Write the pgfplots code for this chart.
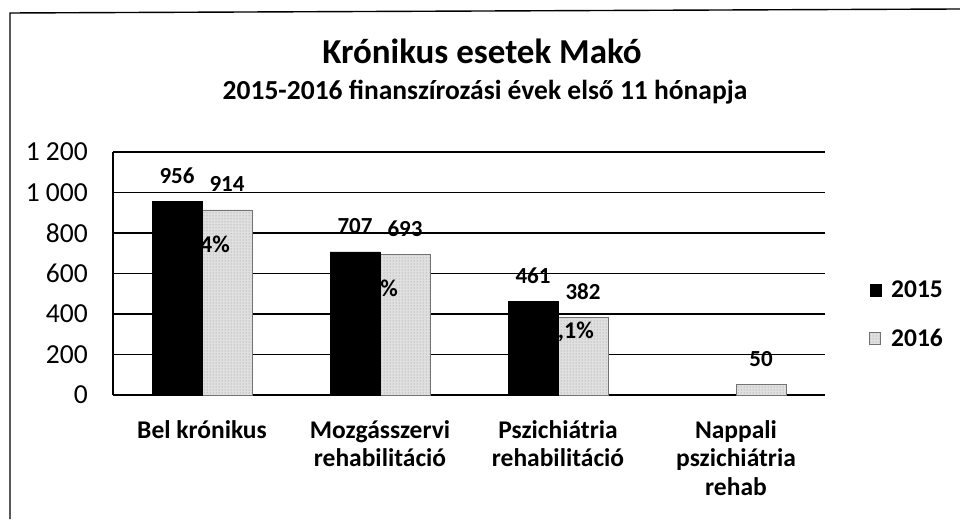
\documentclass[border=0pt]{standalone}
\usepackage{pgfplots}
\pgfplotsset{compat=1.18}
\usetikzlibrary{patterns}
\usepackage{fontspec}
\setmainfont{Carlito}

\begin{document}
\begin{tikzpicture}
\path[use as bounding box] (0pt,0pt) rectangle (960pt,519pt);
\draw[line width=1.4pt] (10pt,0pt) -- (10pt,506pt) -- (960pt,510pt);
\node[font=\bfseries\fontsize{35}{38}\selectfont, anchor=base, inner sep=0pt] at (482pt,455pt) {Krónikus esetek Makó};
\node[font=\bfseries\fontsize{27.5}{30}\selectfont, anchor=base, inner sep=0pt] at (485pt,419pt) {2015-2016 finanszírozási évek első 11 hónapja};
\begin{axis}[
  at={(113pt,124pt)}, anchor=south west,
  scale only axis, width=712pt, height=243pt,
  ybar, bar width=50pt,
  xmin=-0.5, xmax=3.5, ymin=0, ymax=1200,
  ytick={0,200,...,1200},
  xtick={0,1,2,3},
  xticklabels={{Bel krónikus},{Mozgásszervi\\rehabilitáció},{Pszichiátria\\rehabilitáció},{Nappali\\pszichiátria\\rehab}},
  /pgf/number format/assume math mode=true,
  /pgf/number format/1000 sep={\ },
  axis x line*=bottom, axis y line*=left,
  axis line style={black, line width=1.3pt, -},
  ymajorgrids, major grid style={black, line width=1.3pt},
  xtick style={draw=none}, ytick style={draw=none},
  yticklabel style={font=\fontsize{27.5}{30}\selectfont, inner sep=0pt, xshift=-25pt},
  xticklabel style={font=\bfseries\fontsize{25.5}{28.5}\selectfont, align=center, inner sep=0pt, yshift=-21pt},
  nodes near coords,
  every node near coord/.append style={font=\bfseries\fontsize{23}{26}\selectfont, inner sep=0pt, yshift=18pt, black},
  legend style={draw=none, fill=none, at={(1.062,0.331)}, anchor=west,
    font=\bfseries\fontsize{25.5}{28}\selectfont, row sep=26pt, inner sep=0pt,
    /tikz/every odd column/.append style={column sep=8pt}},
  legend cell align=left,
  reverse legend,
  legend image code/.code={\draw[#1] (0pt,-6pt) rectangle (11pt,6pt);},
]
\addplot[bar shift=25pt, fill=black!12, draw=black!55, line width=0.8pt,
  postaction={pattern=dots, pattern color=black!45}]
  coordinates {(0,914) (1,693) (2,382) (3,50)};
\addlegendentry{2016}
\node[anchor=base east, inner sep=0pt, font=\bfseries\fontsize{24}{28}\selectfont] at (axis cs:0.157,706) {-4,4\%};
\node[anchor=base east, inner sep=0pt, font=\bfseries\fontsize{24}{28}\selectfont] at (axis cs:1.101,484) {-2,0\%};
\node[anchor=base east, inner sep=0pt, font=\bfseries\fontsize{24}{28}\selectfont] at (axis cs:2.202,281) {-17,1\%};
\addplot[bar shift=-25pt, fill=black, draw=black]
  coordinates {(0,956) (1,707) (2,461)};
\addlegendentry{2015}
\end{axis}
\end{tikzpicture}
\end{document}
